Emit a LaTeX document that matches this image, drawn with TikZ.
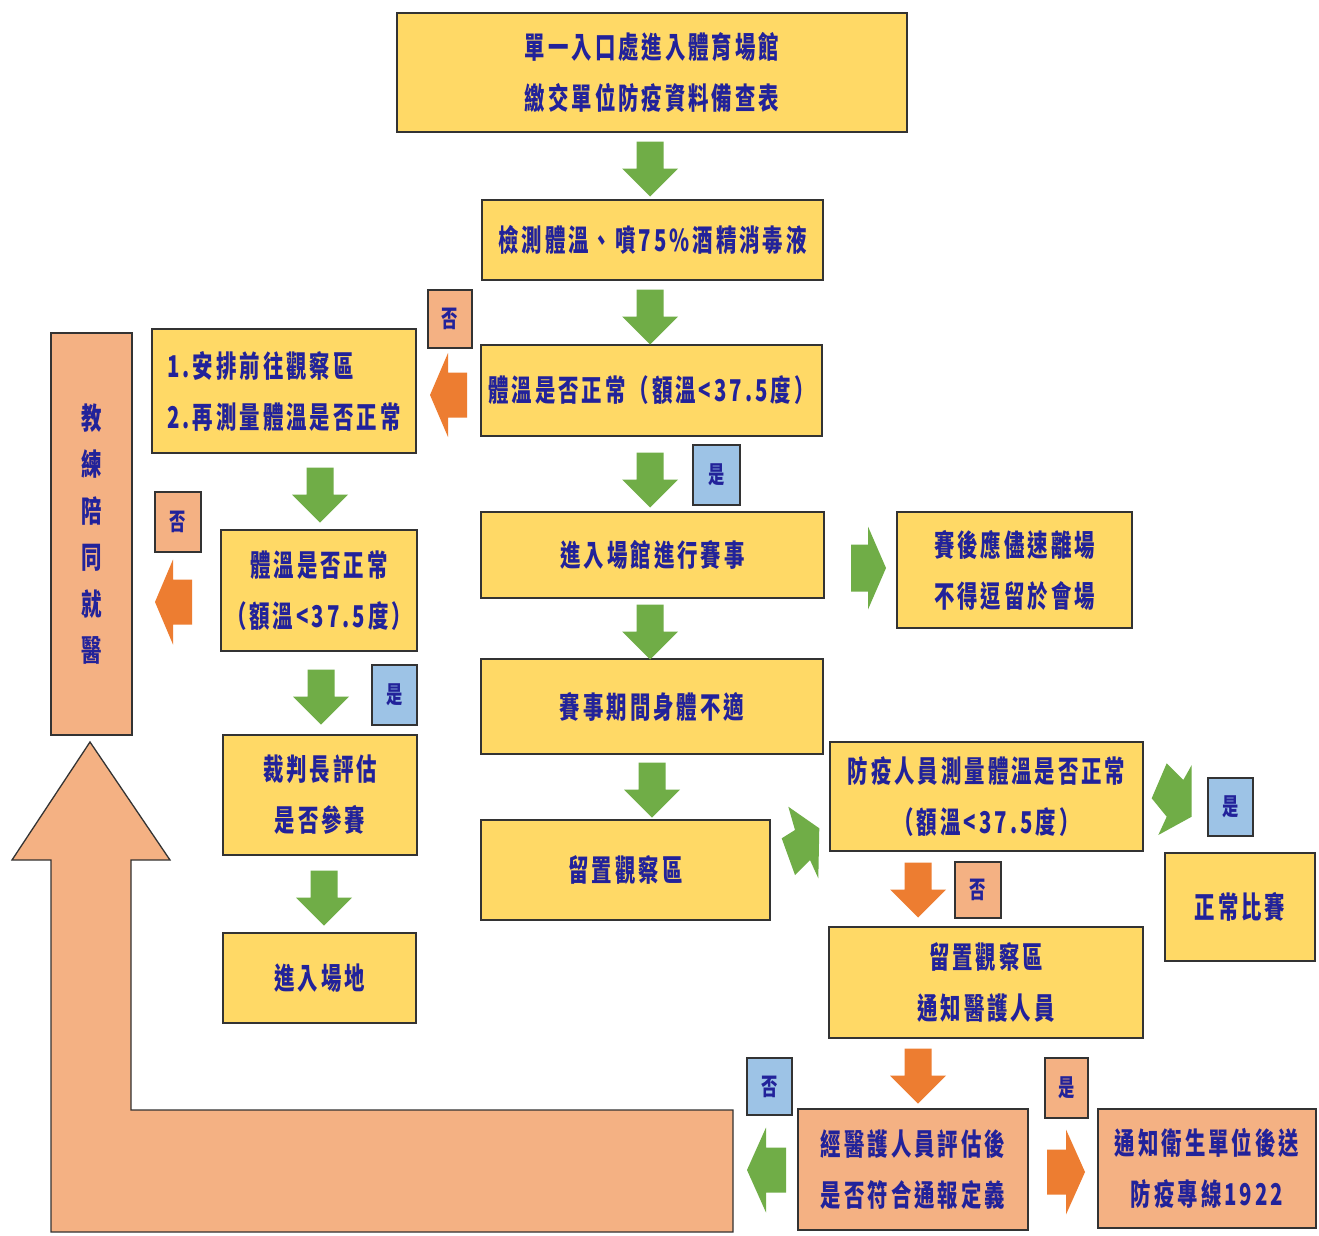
\documentclass[tikz,border=0pt]{standalone}
\usepackage{fontspec}
\newfontfamily\cjk[FakeStretch=0.68,LetterSpace=10]{Noto Sans CJK TC}
\definecolor{yel}{HTML}{FFD966}
\definecolor{sal}{HTML}{F4B183}
\definecolor{blu}{HTML}{9DC3E6}
\definecolor{grn}{HTML}{70AD47}
\definecolor{org}{HTML}{ED7D31}
\definecolor{bord}{HTML}{333333}
\definecolor{txt}{HTML}{22229A}
% block arrow: colour, cx, cy, angle, length, head width, shaft width, head length
\newcommand\blockarr[8]{%
  \begin{scope}[shift={(#2,#3)},rotate=#4]
    \fill[#1] ({-#5/2},{-#7/2}) -- ({#5/2-#8},{-#7/2}) -- ({#5/2-#8},{-#6/2}) -- ({#5/2},0)
      -- ({#5/2-#8},{#6/2}) -- ({#5/2-#8},{#7/2}) -- ({-#5/2},{#7/2}) -- cycle;
  \end{scope}}
\begin{document}
\begin{tikzpicture}[x=1pt,y=-1pt,
  box/.style={draw=bord, line width=1.3pt, inner sep=0pt, align=center, text=txt,
    font=\cjk\bfseries\fontsize{30}{51}\selectfont},
  ybox/.style={box, fill=yel},
  sbox/.style={box, fill=sal},
  wh/.style 2 args={minimum width=#1pt, minimum height=#2pt},
  lab/.style={draw=bord, line width=1.3pt, inner sep=0pt, text=txt,
    font=\cjk\bfseries\fontsize{24}{24}\selectfont},
  slab/.style={lab, fill=sal},
  blab/.style={lab, fill=blu}]
\fill[white] (0,0) rectangle (1319,1236);
\useasboundingbox (0,0) rectangle (1319,1236);

% big return arrow
\draw[draw=bord, line width=1.3pt, fill=sal] (733,1110) -- (131,1110) -- (131,860) -- (170,860)
  -- (90,742) -- (12,860) -- (51,860) -- (51,1232) -- (733,1232) -- cycle;

% yellow boxes
\node[ybox, wh={510}{119}] (n1) at (652,72.5) {單一入口處進入體育場館\\繳交單位防疫資料備查表};
\node[ybox, wh={341}{80}] (n2) at (652.5,240) {檢測體溫、噴75\%酒精消毒液};
\node[ybox, wh={341}{91}] (n3) at (651.5,390.5) {體溫是否正常（額溫<37.5度）};
\node[ybox, wh={264}{124}, align=left] (n4) at (284,391) {1.安排前往觀察區\\2.再測量體溫是否正常};
\node[ybox, wh={196}{121}] (n5) at (319,590.5) {體溫是否正常\\（額溫<37.5度）};
\node[ybox, wh={194}{120}] (n6) at (320,795) {裁判長評估\\是否參賽};
\node[ybox, wh={193}{90}] (n7) at (319.5,978) {進入場地};
\node[ybox, wh={343}{86}] (n8) at (652.5,555) {進入場館進行賽事};
\node[ybox, wh={235}{116}] (n9) at (1014.5,570) {賽後應儘速離場\\不得逗留於會場};
\node[ybox, wh={342}{95}] (n10) at (652,706.5) {賽事期間身體不適};
\node[ybox, wh={289}{100}] (n11) at (625.5,870) {留置觀察區};
\node[ybox, wh={313}{109}] (n12) at (986.5,796.5) {防疫人員測量體溫是否正常\\（額溫<37.5度）};
\node[ybox, wh={150}{108}] (n13) at (1240,907) {正常比賽};
\node[ybox, wh={314}{111}] (n14) at (986,982.5) {留置觀察區\\通知醫護人員};

% salmon boxes
\node[sbox, wh={81}{402}, font=\cjk\bfseries\fontsize{30}{46.5}\selectfont] (s1) at (91.5,534) {教\\練\\陪\\同\\就\\醫};
\node[sbox, wh={230}{121}] (s2) at (913,1169.5) {經醫護人員評估後\\是否符合通報定義};
\node[sbox, wh={218}{119}] (s3) at (1207,1168.5) {通知衛生單位後送\\防疫專線1922};

% yes / no labels
\node[slab, wh={44}{58}] (l1) at (450,319) {否};
\node[slab, wh={46}{60}] (l2) at (178,522) {否};
\node[blab, wh={45}{60}] (l3) at (394.5,695) {是};
\node[blab, wh={47}{60}] (l4) at (716.5,475) {是};
\node[blab, wh={45}{58}] (l5) at (1230.5,807) {是};
\node[slab, wh={46}{56}] (l6) at (978,890) {否};
\node[blab, wh={45}{57}] (l7) at (769.5,1086.5) {否};
\node[slab, wh={43}{60}] (l8) at (1066.5,1088) {是};

% down block arrows
\blockarr{grn}{650}{169}{-90}{55}{56}{27}{28}
\blockarr{grn}{650}{317}{-90}{55}{56}{27}{28}
\blockarr{grn}{650}{480}{-90}{55}{56}{27}{28}
\blockarr{grn}{650}{632}{-90}{55}{56}{27}{28}
\blockarr{grn}{652}{790}{-90}{55}{56}{27}{28}
\blockarr{grn}{320}{495}{-90}{55}{56}{27}{28}
\blockarr{grn}{321}{697}{-90}{55}{56}{27}{28}
\blockarr{grn}{324}{898}{-90}{55}{56}{27}{28}
\blockarr{org}{918}{890}{-90}{55}{56}{27}{28}
\blockarr{org}{918}{1076}{-90}{55}{56}{27}{28}

% horizontal block arrows
\blockarr{org}{448.5}{395}{180}{37}{84}{45}{18}
\blockarr{org}{173.5}{602}{180}{37}{85}{45}{18}
\blockarr{grn}{868.5}{568}{0}{35}{83}{47}{18}
\blockarr{grn}{766.5}{1170}{180}{39}{85}{45}{19}
\blockarr{org}{1066}{1172}{0}{38}{85}{45}{19}

% slanted block arrows
\fill[grn] (788.3,806.7) -- (819.3,828.3) -- (818.3,878.3) -- (810,860) -- (795,875)
  -- (781.7,838.3) -- (795,830) -- cycle;
\fill[grn] (1166.7,763.3) -- (1183.3,780) -- (1191.7,765) -- (1191.7,816.7) -- (1158.3,835)
  -- (1166.7,816.7) -- (1151.7,798.3) -- cycle;
\end{tikzpicture}
\end{document}
